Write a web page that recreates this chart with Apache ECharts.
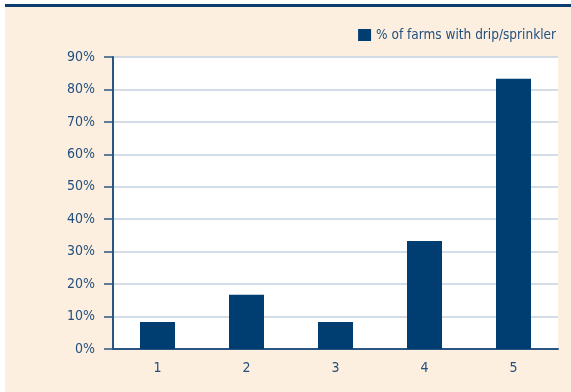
<!DOCTYPE html>
<html>
<head>
<meta charset="utf-8">
<script src="https://cdn.jsdelivr.net/npm/echarts@6/dist/echarts.min.js"></script>
<style>
  html, body { margin: 0; padding: 0; background: #fff; }
  #chart { width: 571px; height: 392px; }
</style>
</head>
<body>
<div id="chart"></div>
<script>
// categories and values
var categories = ['1', '2', '3', '4', '5'];
var dripShare = [8.3, 16.7, 8.3, 33.3, 83.3];
var seriesName = '% of farms with drip/sprinkler';

var navy = '#003d71';
var labelColor = '#24507f';
var fontName = '"Liberation Sans Narrow", "DejaVu Sans Condensed", sans-serif';

var chart = echarts.init(document.getElementById('chart'));
chart.setOption({
  backgroundColor: '#fcefdf',
  animation: false,
  textStyle: { fontFamily: fontName },
  graphic: [
    // white margins top and left, then the navy rule
    { type: 'rect', shape: { x: 0, y: 0, width: 571, height: 4 }, style: { fill: '#fff' } },
    { type: 'rect', shape: { x: 0, y: 0, width: 5, height: 392 }, style: { fill: '#fff' } },
    { type: 'rect', shape: { x: 5, y: 4, width: 566, height: 3 }, style: { fill: '#0b3c6e' } }
  ],
  legend: {
    data: [seriesName],
    right: 10,
    top: 23,
    icon: 'rect',
    itemWidth: 13,
    itemHeight: 12,
    itemGap: 8,
    textStyle: { color: labelColor, fontSize: 13.5, fontFamily: fontName }
  },
  grid: {
    left: 113,
    right: 13,
    top: 57,
    bottom: 43,
    show: true,
    backgroundColor: '#fff',
    borderWidth: 0
  },
  xAxis: {
    type: 'category',
    data: categories,
    axisLine: { lineStyle: { color: '#2a5583', width: 2 } },
    axisTick: { length: 7, lineStyle: { color: '#2a5583', width: 1.5 } },
    axisLabel: { color: labelColor, fontSize: 14, margin: 12, fontFamily: fontName },
    splitLine: { show: false }
  },
  yAxis: {
    type: 'value',
    min: 0,
    max: 90,
    interval: 10,
    axisLine: { show: true, lineStyle: { color: '#2a5583', width: 2 } },
    axisTick: { show: true, length: 9, lineStyle: { color: '#2a5583', width: 1.5 } },
    axisLabel: { color: labelColor, fontSize: 14, margin: 18, formatter: '{value}%', fontFamily: fontName },
    splitLine: { lineStyle: { color: '#c3d2e0', width: 1.5 } }
  },
  series: [{
    name: seriesName,
    type: 'bar',
    data: dripShare,
    barWidth: 35,
    itemStyle: { color: navy }
  }]
});
</script>
</body>
</html>
